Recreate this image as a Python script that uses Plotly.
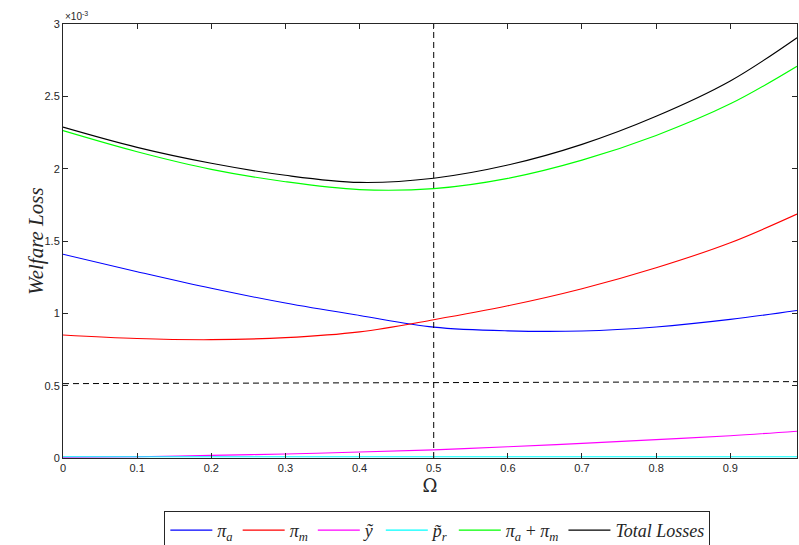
import plotly.graph_objects as go

# x values (Omega)
omega = [0.0, 0.1, 0.2, 0.3, 0.4, 0.5, 0.6, 0.7, 0.8, 0.9, 0.99]
# series values in units of 1e-3
pi_a = [1.408, 1.288, 1.173, 1.071, 0.985, 0.905, 0.879, 0.878, 0.906, 0.958, 1.020]
pi_m = [0.850, 0.826, 0.818, 0.832, 0.872, 0.956, 1.052, 1.170, 1.315, 1.488, 1.686]
y_tilde = [0.005, 0.009, 0.018, 0.028, 0.041, 0.056, 0.078, 0.101, 0.127, 0.154, 0.185]
p_r_tilde = [0.009, 0.009, 0.009, 0.009, 0.009, 0.009, 0.009, 0.009, 0.009, 0.009, 0.009]
pi_sum = [2.263, 2.117, 1.995, 1.910, 1.855, 1.862, 1.933, 2.059, 2.230, 2.448, 2.708]
total = [2.287, 2.147, 2.037, 1.954, 1.905, 1.934, 2.025, 2.168, 2.362, 2.606, 2.905]

vline_x = [0.5, 0.5]
vline_y = [0.0, 3.0]
hline_x = [0.0, 0.99]
hline_y = [0.514, 0.528]

x_ticks = [0, 0.1, 0.2, 0.3, 0.4, 0.5, 0.6, 0.7, 0.8, 0.9]
x_ticktext = ["0", "0.1", "0.2", "0.3", "0.4", "0.5", "0.6", "0.7", "0.8", "0.9"]
y_ticks = [0, 0.5, 1, 1.5, 2, 2.5, 3]
y_ticktext = ["0", "0.5", "1", "1.5", "2", "2.5", "3"]

series = [
    ("<i>π</i><sub><i>a</i></sub>", pi_a, "#0000FF"),
    ("<i>π</i><sub><i>m</i></sub>", pi_m, "#FF0000"),
    ("<i>ỹ</i>", y_tilde, "#FF00FF"),
    ("<i>p̃</i><sub><i>r</i></sub>", p_r_tilde, "#00FFFF"),
    ("<i>π</i><sub><i>a</i></sub> + <i>π</i><sub><i>m</i></sub>", pi_sum, "#00FF00"),
    ("<i>Total Losses</i>", total, "#000000"),
]

fig = go.Figure()
for name, vals, col in series:
    fig.add_trace(go.Scatter(x=omega, y=vals, mode="lines", name=name, cliponaxis=False,
                             line=dict(color=col, width=1.1, shape="spline", smoothing=1.0)))

fig.add_trace(go.Scatter(x=vline_x, y=vline_y, mode="lines", showlegend=False,
                         line=dict(color="black", width=1, dash="6px,4px")))
fig.add_trace(go.Scatter(x=hline_x, y=hline_y, mode="lines", showlegend=False,
                         line=dict(color="black", width=1, dash="6px,4px")))

axis_common = dict(showline=True, linecolor="#262626", linewidth=1, mirror="ticks",
                   ticks="inside", ticklen=5, tickcolor="#262626", showgrid=False,
                   zeroline=False, automargin=False,
                   tickfont=dict(family="Liberation Sans, Arial", size=11, color="#262626"))

fig.update_xaxes(range=[0, 0.99], tickvals=x_ticks, ticktext=x_ticktext,
                 title=dict(text="Ω", font=dict(family="DejaVu Serif", size=18, color="#262626"), standoff=6),
                 **axis_common)
fig.update_yaxes(range=[0, 3], tickvals=y_ticks, ticktext=y_ticktext, **axis_common)

fig.add_annotation(text="<i>Welfare Loss</i>", xref="paper", yref="paper",
                   x=-0.056, y=0.5, textangle=-90, showarrow=False,
                   font=dict(family="Liberation Serif, DejaVu Serif", size=21, color="#262626"))
fig.add_annotation(text="×10<sup>-3</sup>", xref="paper", yref="paper",
                   x=0.0, y=1.0, xanchor="left", yanchor="bottom", showarrow=False,
                   font=dict(family="Liberation Sans, Arial", size=10, color="#262626"))

fig.update_layout(
    width=799, height=545,
    margin=dict(l=63, r=2, t=24, b=87, autoexpand=False),
    plot_bgcolor="white", paper_bgcolor="white",
    legend=dict(orientation="h", x=0.51, xanchor="center", y=-0.122, yanchor="top",
                bordercolor="#262626", borderwidth=1, bgcolor="white",
                font=dict(family="Liberation Serif, DejaVu Serif", size=18, color="#262626"),
                itemwidth=42, tracegroupgap=0),
)

fig.write_html("out.html")
